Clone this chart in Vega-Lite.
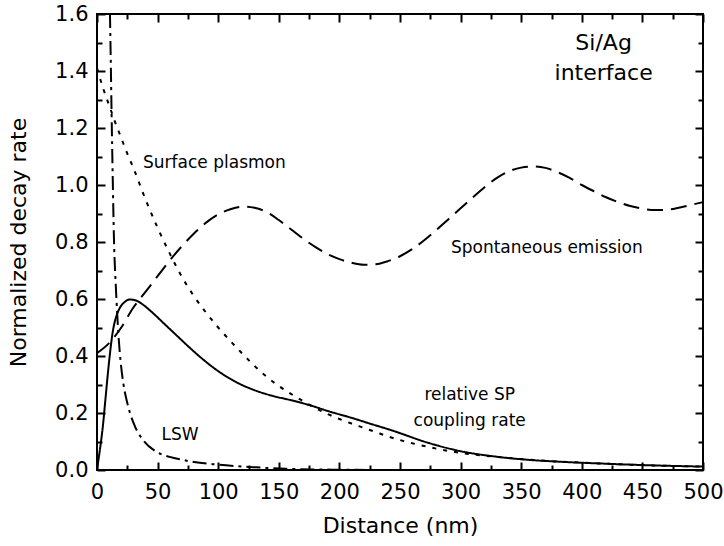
{
  "$schema": "https://vega.github.io/schema/vega-lite/v6.json",
  "width": 606,
  "height": 456,
  "autosize": {"type": "none"},
  "padding": {"left": 97, "top": 14, "right": 21, "bottom": 76},
  "background": "white",
  "config": {
    "view": {"stroke": "black", "strokeWidth": 2},
    "axis": {"grid": false, "labelFontSize": 21, "titleFontSize": 22, "titleFontWeight": "normal", "labelFont": "DejaVu Sans", "titleFont": "DejaVu Sans", "labelColor": "black", "titleColor": "black"}
  },
  "datasets": {
    "curves": [
      {"series": "SE", "x": 0, "y": 0.41}, {"series": "SE", "x": 10, "y": 0.445}, {"series": "SE", "x": 20, "y": 0.5}, {"series": "SE", "x": 30, "y": 0.57}, {"series": "SE", "x": 40, "y": 0.625}, {"series": "SE", "x": 50, "y": 0.68}, {"series": "SE", "x": 60, "y": 0.735}, {"series": "SE", "x": 70, "y": 0.785}, {"series": "SE", "x": 80, "y": 0.83}, {"series": "SE", "x": 90, "y": 0.868}, {"series": "SE", "x": 100, "y": 0.897}, {"series": "SE", "x": 110, "y": 0.915}, {"series": "SE", "x": 120, "y": 0.924}, {"series": "SE", "x": 130, "y": 0.92}, {"series": "SE", "x": 140, "y": 0.905}, {"series": "SE", "x": 150, "y": 0.877}, {"series": "SE", "x": 160, "y": 0.845}, {"series": "SE", "x": 170, "y": 0.812}, {"series": "SE", "x": 180, "y": 0.783}, {"series": "SE", "x": 190, "y": 0.758}, {"series": "SE", "x": 200, "y": 0.74}, {"series": "SE", "x": 210, "y": 0.727}, {"series": "SE", "x": 220, "y": 0.72}, {"series": "SE", "x": 230, "y": 0.722}, {"series": "SE", "x": 240, "y": 0.733}, {"series": "SE", "x": 250, "y": 0.75}, {"series": "SE", "x": 260, "y": 0.775}, {"series": "SE", "x": 270, "y": 0.806}, {"series": "SE", "x": 280, "y": 0.842}, {"series": "SE", "x": 290, "y": 0.88}, {"series": "SE", "x": 300, "y": 0.918}, {"series": "SE", "x": 310, "y": 0.956}, {"series": "SE", "x": 320, "y": 0.993}, {"series": "SE", "x": 330, "y": 1.025}, {"series": "SE", "x": 340, "y": 1.048}, {"series": "SE", "x": 350, "y": 1.061}, {"series": "SE", "x": 360, "y": 1.065}, {"series": "SE", "x": 370, "y": 1.06}, {"series": "SE", "x": 380, "y": 1.045}, {"series": "SE", "x": 390, "y": 1.025}, {"series": "SE", "x": 400, "y": 1.0}, {"series": "SE", "x": 410, "y": 0.978}, {"series": "SE", "x": 420, "y": 0.957}, {"series": "SE", "x": 430, "y": 0.94}, {"series": "SE", "x": 440, "y": 0.926}, {"series": "SE", "x": 450, "y": 0.917}, {"series": "SE", "x": 460, "y": 0.912}, {"series": "SE", "x": 470, "y": 0.913}, {"series": "SE", "x": 480, "y": 0.92}, {"series": "SE", "x": 490, "y": 0.93}, {"series": "SE", "x": 500, "y": 0.94},

      {"series": "SP", "x": 0, "y": 1.41}, {"series": "SP", "x": 5, "y": 1.34}, {"series": "SP", "x": 10, "y": 1.28}, {"series": "SP", "x": 15, "y": 1.22}, {"series": "SP", "x": 20, "y": 1.165}, {"series": "SP", "x": 25, "y": 1.11}, {"series": "SP", "x": 30, "y": 1.06}, {"series": "SP", "x": 40, "y": 0.95}, {"series": "SP", "x": 50, "y": 0.85}, {"series": "SP", "x": 60, "y": 0.76}, {"series": "SP", "x": 70, "y": 0.678}, {"series": "SP", "x": 80, "y": 0.61}, {"series": "SP", "x": 90, "y": 0.552}, {"series": "SP", "x": 100, "y": 0.5}, {"series": "SP", "x": 110, "y": 0.453}, {"series": "SP", "x": 120, "y": 0.408}, {"series": "SP", "x": 130, "y": 0.365}, {"series": "SP", "x": 140, "y": 0.327}, {"series": "SP", "x": 150, "y": 0.295}, {"series": "SP", "x": 160, "y": 0.267}, {"series": "SP", "x": 170, "y": 0.242}, {"series": "SP", "x": 180, "y": 0.218}, {"series": "SP", "x": 190, "y": 0.197}, {"series": "SP", "x": 200, "y": 0.179}, {"series": "SP", "x": 210, "y": 0.163}, {"series": "SP", "x": 220, "y": 0.148}, {"series": "SP", "x": 230, "y": 0.133}, {"series": "SP", "x": 240, "y": 0.118}, {"series": "SP", "x": 250, "y": 0.105}, {"series": "SP", "x": 260, "y": 0.094}, {"series": "SP", "x": 270, "y": 0.084}, {"series": "SP", "x": 280, "y": 0.075}, {"series": "SP", "x": 290, "y": 0.067}, {"series": "SP", "x": 300, "y": 0.06}, {"series": "SP", "x": 320, "y": 0.05}, {"series": "SP", "x": 340, "y": 0.042}, {"series": "SP", "x": 360, "y": 0.035}, {"series": "SP", "x": 380, "y": 0.03}, {"series": "SP", "x": 400, "y": 0.026}, {"series": "SP", "x": 425, "y": 0.021}, {"series": "SP", "x": 450, "y": 0.017}, {"series": "SP", "x": 475, "y": 0.014}, {"series": "SP", "x": 500, "y": 0.012},

      {"series": "CR", "x": 0, "y": 0}, {"series": "CR", "x": 1, "y": 0.03}, {"series": "CR", "x": 3, "y": 0.09}, {"series": "CR", "x": 5, "y": 0.16}, {"series": "CR", "x": 7, "y": 0.25}, {"series": "CR", "x": 9, "y": 0.34}, {"series": "CR", "x": 11, "y": 0.42}, {"series": "CR", "x": 13, "y": 0.485}, {"series": "CR", "x": 16, "y": 0.54}, {"series": "CR", "x": 19, "y": 0.57}, {"series": "CR", "x": 23, "y": 0.59}, {"series": "CR", "x": 27, "y": 0.598}, {"series": "CR", "x": 32, "y": 0.595}, {"series": "CR", "x": 38, "y": 0.58}, {"series": "CR", "x": 45, "y": 0.555}, {"series": "CR", "x": 55, "y": 0.515}, {"series": "CR", "x": 65, "y": 0.475}, {"series": "CR", "x": 75, "y": 0.435}, {"series": "CR", "x": 87.5, "y": 0.388}, {"series": "CR", "x": 100, "y": 0.347}, {"series": "CR", "x": 115, "y": 0.308}, {"series": "CR", "x": 130, "y": 0.28}, {"series": "CR", "x": 145, "y": 0.26}, {"series": "CR", "x": 160, "y": 0.245}, {"series": "CR", "x": 175, "y": 0.228}, {"series": "CR", "x": 192, "y": 0.205}, {"series": "CR", "x": 210, "y": 0.183}, {"series": "CR", "x": 225, "y": 0.163}, {"series": "CR", "x": 244, "y": 0.138}, {"series": "CR", "x": 272, "y": 0.097}, {"series": "CR", "x": 300, "y": 0.066}, {"series": "CR", "x": 327, "y": 0.048}, {"series": "CR", "x": 355, "y": 0.036}, {"series": "CR", "x": 382, "y": 0.029}, {"series": "CR", "x": 420, "y": 0.022}, {"series": "CR", "x": 460, "y": 0.016}, {"series": "CR", "x": 500, "y": 0.012},

      {"series": "LSW", "x": 10.7, "y": 1.6}, {"series": "LSW", "x": 11.3, "y": 1.45}, {"series": "LSW", "x": 12, "y": 1.26}, {"series": "LSW", "x": 13, "y": 1.02}, {"series": "LSW", "x": 14, "y": 0.81}, {"series": "LSW", "x": 15.7, "y": 0.63}, {"series": "LSW", "x": 17.6, "y": 0.48}, {"series": "LSW", "x": 19.5, "y": 0.38}, {"series": "LSW", "x": 21.7, "y": 0.305}, {"series": "LSW", "x": 25.8, "y": 0.222}, {"series": "LSW", "x": 31.4, "y": 0.152}, {"series": "LSW", "x": 38, "y": 0.105}, {"series": "LSW", "x": 49, "y": 0.064}, {"series": "LSW", "x": 60, "y": 0.046}, {"series": "LSW", "x": 70, "y": 0.036}, {"series": "LSW", "x": 80, "y": 0.028}, {"series": "LSW", "x": 99, "y": 0.019}, {"series": "LSW", "x": 129, "y": 0.01}, {"series": "LSW", "x": 156, "y": 0.004}, {"series": "LSW", "x": 200, "y": 0.001}, {"series": "LSW", "x": 250, "y": 0}, {"series": "LSW", "x": 300, "y": 0}
    ],
    "leftnotes": [
      {"text": "Surface plasmon", "x": 38, "y": 1.078},
      {"text": "Spontaneous emission", "x": 292, "y": 0.779},
      {"text": "LSW", "x": 53.3, "y": 0.123}
    ],
    "notes": [
      {"text": "relative SP", "x": 307.5, "y": 0.263},
      {"text": "coupling rate", "x": 307.5, "y": 0.172}
    ],
    "big": [
      {"text": "Si/Ag", "x": 418, "y": 1.498},
      {"text": "interface", "x": 418, "y": 1.393}
    ]
  },
  "data": {"name": "curves"},
  "resolve": {"axis": {"x": "independent", "y": "independent"}},
  "layer": [
    {
      "mark": {"type": "line", "strokeWidth": 2, "color": "black", "strokeCap": "butt", "interpolate": "monotone"},
      "encoding": {
        "x": {"field": "x", "type": "quantitative", "scale": {"domain": [0, 500], "nice": false, "zero": false},
          "axis": {"orient": "bottom", "title": "Distance (nm)", "values": [0,50,100,150,200,250,300,350,400,450,500],
            "labelOverlap": false, "labelFlush": false, "domain": false,
            "tickSize": -8, "tickColor": "black", "tickWidth": 2,
            "labelPadding": 19, "titlePadding": 13}},
        "y": {"field": "y", "type": "quantitative", "scale": {"domain": [0, 1.6], "nice": false, "zero": false},
          "axis": {"orient": "left", "title": "Normalized decay rate", "values": [0,0.2,0.4,0.6,0.8,1.0,1.2,1.4,1.6],
            "format": ".1f", "labelOverlap": false, "labelFlush": false, "domain": false,
            "tickSize": -8, "tickColor": "black", "tickWidth": 2,
            "labelPadding": 17, "titlePadding": 24}},
        "detail": {"field": "series"},
        "strokeDash": {"field": "series", "type": "nominal", "legend": null,
          "scale": {"domain": ["SE", "SP", "CR", "LSW"], "range": [[16, 8], [4, 7], [1, 0], [14, 5, 3, 5]]}}
      }
    },
    {
      "mark": {"type": "point", "opacity": 0},
      "encoding": {
        "x": {"field": "x", "type": "quantitative",
          "axis": {"orient": "bottom", "title": null, "labels": false, "domain": false, "values": [25,75,125,175,225,275,325,375,425,475], "tickSize": -5, "tickColor": "black", "tickWidth": 2}},
        "y": {"field": "y", "type": "quantitative",
          "axis": {"orient": "left", "title": null, "labels": false, "domain": false, "values": [0.1,0.3,0.5,0.7,0.9,1.1,1.3,1.5], "tickSize": -5, "tickColor": "black", "tickWidth": 2}}
      }
    },
    {
      "mark": {"type": "point", "opacity": 0},
      "encoding": {
        "x": {"field": "x", "type": "quantitative",
          "axis": {"orient": "top", "title": null, "labels": false, "domain": false, "values": [0,50,100,150,200,250,300,350,400,450,500], "tickSize": -8, "tickColor": "black", "tickWidth": 2}},
        "y": {"field": "y", "type": "quantitative",
          "axis": {"orient": "right", "title": null, "labels": false, "domain": false, "values": [0,0.2,0.4,0.6,0.8,1.0,1.2,1.4,1.6], "tickSize": -8, "tickColor": "black", "tickWidth": 2}}
      }
    },
    {
      "mark": {"type": "point", "opacity": 0},
      "encoding": {
        "x": {"field": "x", "type": "quantitative",
          "axis": {"orient": "top", "title": null, "labels": false, "domain": false, "values": [25,75,125,175,225,275,325,375,425,475], "tickSize": -5, "tickColor": "black", "tickWidth": 2}},
        "y": {"field": "y", "type": "quantitative",
          "axis": {"orient": "right", "title": null, "labels": false, "domain": false, "values": [0.1,0.3,0.5,0.7,0.9,1.1,1.3,1.5], "tickSize": -5, "tickColor": "black", "tickWidth": 2}}
      }
    },
    {
      "data": {"name": "leftnotes"},
      "mark": {"type": "text", "fontSize": 17, "font": "DejaVu Sans", "color": "black", "align": "left", "baseline": "middle"},
      "encoding": {
        "x": {"field": "x", "type": "quantitative", "axis": null},
        "y": {"field": "y", "type": "quantitative", "axis": null},
        "text": {"field": "text"}
      }
    },
    {
      "data": {"name": "notes"},
      "mark": {"type": "text", "fontSize": 17, "font": "DejaVu Sans", "color": "black", "align": "center", "baseline": "middle"},
      "encoding": {
        "x": {"field": "x", "type": "quantitative", "axis": null},
        "y": {"field": "y", "type": "quantitative", "axis": null},
        "text": {"field": "text"}
      }
    },
    {
      "data": {"name": "big"},
      "mark": {"type": "text", "fontSize": 22, "font": "DejaVu Sans", "color": "black", "align": "center", "baseline": "middle"},
      "encoding": {
        "x": {"field": "x", "type": "quantitative", "axis": null},
        "y": {"field": "y", "type": "quantitative", "axis": null},
        "text": {"field": "text"}
      }
    }
  ]
}
